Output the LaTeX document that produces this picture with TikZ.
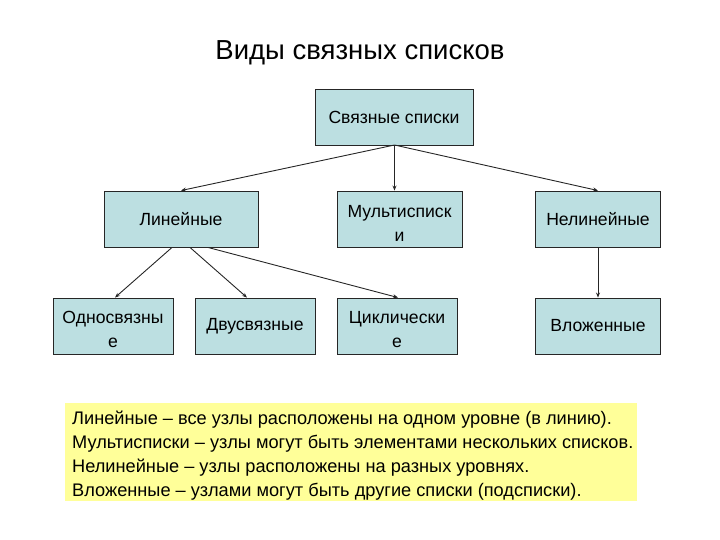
\documentclass[tikz,border=0pt]{standalone}
\usepackage{fontspec}
\setmainfont{Liberation Sans}
\usetikzlibrary{arrows.meta}
\definecolor{boxfill}{HTML}{BCDFE1}
\definecolor{notefill}{HTML}{FFFF99}
\newcommand{\lowerfirst}{\rule{0pt}{20pt}}
\tikzset{
  bx/.style={draw=black!85, line width=0.9pt, fill=boxfill, inner sep=0pt, align=center,
    minimum height=56pt, font=\fontsize{17.6}{24}\selectfont},
  con/.style={draw=black!85, line width=0.9pt, -{Stealth[length=5pt,width=4pt]}},
}
\begin{document}
\begin{tikzpicture}[x=1pt,y=-1pt]
\useasboundingbox (0,0) rectangle (720,540);
\node[font=\fontsize{27.5}{32}\selectfont] (title) at (360,53) {Виды связных списков};
\node[bx, minimum width=158pt] (root) at (394,117) {Связные списки};
\node[bx, minimum width=154pt] (lin) at (181,219) {Линейные};
\node[bx, minimum width=125pt] (multi) at (399.5,219) {\lowerfirst Мультисписк\\и};
\node[bx, minimum width=125pt] (nonlin) at (598,219) {Нелинейные};
\node[bx, minimum width=120pt] (one) at (113,326) {\lowerfirst Односвязны\\е};
\node[bx, minimum width=120pt] (two) at (255,326) {Двусвязные};
\node[bx, minimum width=120pt] (cyc) at (397,326) {\lowerfirst Циклически\\е};
\node[bx, minimum width=125pt] (nest) at (598,326) {Вложенные};
\coordinate (rs) at (394.5,145);
\draw[con] (rs) -- (lin.north);
\draw[con] (rs) -- (multi.north -| rs);
\draw[con] (rs) -- (nonlin.north);
\draw[con] ([xshift=-9pt]lin.south) -- ([xshift=2pt]one.north);
\draw[con] ([xshift=9pt]lin.south) -- ([xshift=-8pt]two.north);
\draw[con] ([xshift=27pt]lin.south) -- ([xshift=1pt]cyc.north);
\draw[con] (nonlin) -- (nest);
\node[fill=notefill, minimum width=572pt, minimum height=98pt, inner sep=0pt] (note) at (351,452) {};
\node[anchor=west, align=left, inner sep=0pt, font=\fontsize{18.2}{24}\selectfont] (notetext) at (72,455.5)
{Линейные – все узлы расположены на одном уровне (в линию).\\
Мультисписки – узлы могут быть элементами нескольких списков.\\
Нелинейные – узлы расположены на разных уровнях.\\
Вложенные – узлами могут быть другие списки (подсписки).};
\end{tikzpicture}
\end{document}
